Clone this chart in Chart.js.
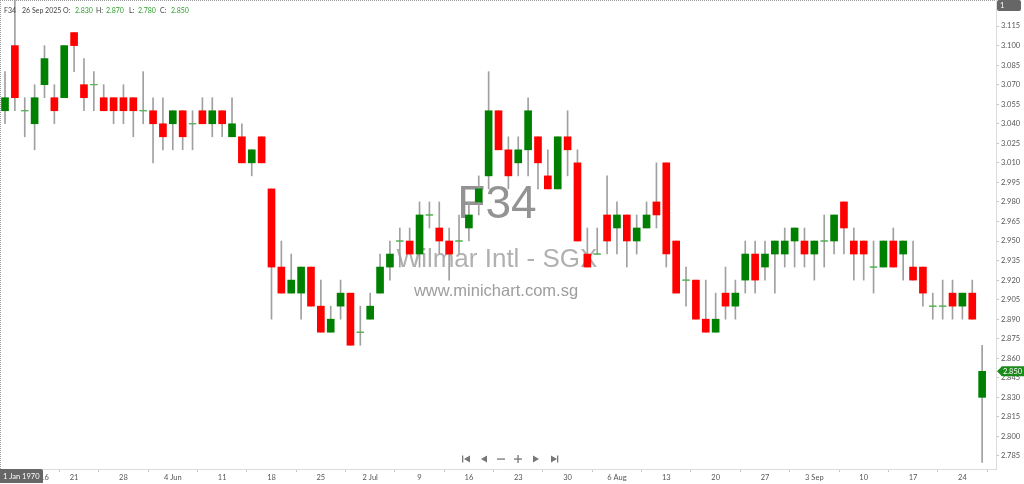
<!DOCTYPE html>
<html>
<head>
<meta charset="utf-8">
<script src="https://cdn.jsdelivr.net/npm/chart.js@4.4.1/dist/chart.umd.min.js"></script>
<style>
  html, body { margin: 0; padding: 0; background: #fff; }
  #wrap { width: 1024px; height: 484px; position: relative; }
</style>
</head>
<body>
<div id="wrap"><canvas id="chart"></canvas></div>
<script>
// F34 daily candles, 12 May - 26 Sep 2025
const opens = [
  3.05,3.10,3.05,3.04,3.07,3.06,3.06,3.11,3.07,3.07,
  3.06,3.06,3.06,3.06,3.05,3.05,3.04,3.04,3.05,3.04,
  3.05,3.04,3.05,3.03,3.03,3.01,3.03,2.99,2.93,2.91,
  2.91,2.93,2.90,2.88,2.90,2.91,2.88,2.89,2.91,2.93,
  2.95,2.95,2.94,2.97,2.96,2.95,2.95,2.96,2.98,3.00,
  3.05,3.02,3.01,3.02,3.03,3.00,2.99,3.03,3.01,2.94,
  2.94,2.97,2.96,2.97,2.95,2.96,2.98,3.01,2.95,2.92,
  2.92,2.89,2.88,2.91,2.90,2.92,2.94,2.93,2.94,2.94,
  2.95,2.95,2.94,2.95,2.95,2.98,2.95,2.95,2.93,2.93,
  2.95,2.94,2.93,2.93,2.90,2.90,2.91,2.90,2.91,2.83
];
const highs = [
  3.08,3.14,3.06,3.07,3.10,3.07,3.10,3.11,3.09,3.08,
  3.07,3.06,3.07,3.06,3.08,3.06,3.06,3.05,3.05,3.05,
  3.06,3.06,3.05,3.06,3.04,3.02,3.03,2.99,2.95,2.94,
  2.93,2.93,2.92,2.90,2.92,2.91,2.90,2.91,2.94,2.95,
  2.96,2.96,2.98,2.98,2.98,2.96,2.97,2.98,3.00,3.08,
  3.05,3.03,3.03,3.06,3.03,3.02,3.03,3.05,3.02,2.96,
  2.96,3.00,2.98,2.97,2.97,2.98,3.01,3.01,2.95,2.93,
  2.92,2.92,2.91,2.93,2.92,2.95,2.95,2.95,2.95,2.96,
  2.96,2.96,2.95,2.97,2.97,2.98,2.96,2.95,2.95,2.95,
  2.96,2.95,2.95,2.93,2.91,2.92,2.92,2.91,2.92,2.87
];
const lows = [
  3.04,3.05,3.03,3.02,3.06,3.04,3.06,3.08,3.05,3.05,
  3.05,3.04,3.04,3.03,3.04,3.01,3.02,3.02,3.02,3.02,
  3.04,3.03,3.03,3.03,3.01,3.00,3.01,2.89,2.91,2.91,
  2.89,2.90,2.88,2.88,2.89,2.87,2.87,2.89,2.91,2.92,
  2.93,2.94,2.93,2.96,2.94,2.92,2.94,2.95,2.97,2.99,
  3.02,2.99,3.00,3.00,2.99,2.99,2.99,3.00,2.95,2.93,
  2.94,2.94,2.94,2.93,2.94,2.96,2.96,2.93,2.91,2.90,
  2.89,2.88,2.88,2.89,2.89,2.91,2.91,2.92,2.91,2.93,
  2.93,2.93,2.92,2.93,2.94,2.94,2.92,2.92,2.91,2.93,
  2.93,2.92,2.92,2.90,2.89,2.89,2.89,2.89,2.89,2.78
];
const closes = [
  3.06,3.06,3.05,3.06,3.09,3.05,3.10,3.10,3.06,3.07,
  3.05,3.05,3.05,3.05,3.05,3.04,3.03,3.05,3.03,3.04,
  3.04,3.05,3.04,3.04,3.01,3.02,3.01,2.93,2.91,2.92,
  2.93,2.90,2.88,2.89,2.91,2.87,2.88,2.90,2.93,2.94,
  2.95,2.94,2.97,2.97,2.95,2.94,2.95,2.97,2.99,3.05,
  3.02,3.00,3.02,3.05,3.01,2.99,3.03,3.02,2.95,2.93,
  2.94,2.95,2.97,2.95,2.96,2.97,2.97,2.94,2.91,2.92,
  2.89,2.88,2.89,2.90,2.91,2.94,2.92,2.94,2.95,2.95,
  2.96,2.94,2.95,2.95,2.97,2.96,2.94,2.94,2.93,2.95,
  2.93,2.95,2.92,2.91,2.90,2.90,2.90,2.91,2.89,2.85
];

// date ticks on the bottom axis (candle index -> text)
const xTickIndex = [4,7,12,17,22,27,32,37,42,47,52,57,62,67,72,77,82,87,92,97];
const xTickText = ['16','21','28','4 Jun','11','18','25','2 Jul','9','16','23','30','6 Aug','13','20','27','3 Sep','10','17','24'];

// price ticks on the right axis
const yTickValues = [2.785,2.800,2.815,2.830,2.845,2.860,2.875,2.890,2.905,2.920,2.935,2.950,
  2.965,2.980,2.995,3.010,3.025,3.040,3.055,3.070,3.085,3.100,3.115];

const UP = '#008000', DOWN = '#ff0000', DOJI = '#5cb85c';
const FONT = 'Lato, "Open Sans", sans-serif';

const wickData = highs.map((h, i) => ({ x: i, y: [lows[i], h] }));
const bodyData = opens.map((o, i) => ({ x: i, y: [o, closes[i]] }));
const bodyColors = opens.map((o, i) => closes[i] >= o ? UP : DOWN);
const dojiData = opens.map((o, i) => ({ x: i, y: o === closes[i] ? o : null }));

const last = opens.length - 1;

const overlay = {
  id: 'overlay',
  beforeDatasetsDraw(chart) {
    const ctx = chart.ctx;
    ctx.save();
    ctx.textAlign = 'center';
    ctx.textBaseline = 'alphabetic';
    ctx.fillStyle = 'rgba(120,120,120,0.8)';
    ctx.font = '46px "Liberation Sans", Arial, sans-serif';
    ctx.fillText('F34', 497, 218);
    ctx.fillStyle = 'rgba(150,150,150,0.75)';
    ctx.font = '26px "Liberation Sans", Arial, sans-serif';
    ctx.fillText('Wilmar Intl - SGX', 497, 267);
    ctx.fillStyle = 'rgba(140,140,140,0.85)';
    ctx.font = '16.5px "Liberation Sans", Arial, sans-serif';
    ctx.fillText('www.minichart.com.sg', 496, 296);
    ctx.restore();
  },
  afterDraw(chart) {
    const ctx = chart.ctx;
    const area = chart.chartArea;
    const y = chart.scales.y;
    ctx.save();

    // dotted frame
    ctx.strokeStyle = '#9a9a9a';
    ctx.lineWidth = 1;
    ctx.setLineDash([1, 1]);
    ctx.beginPath();
    ctx.moveTo(0.5, 0); ctx.lineTo(0.5, 484);
    ctx.moveTo(0, 0.5); ctx.lineTo(area.right, 0.5);
    ctx.stroke();
    ctx.setLineDash([]);

    // header line
    ctx.font = '7px ' + FONT;
    ctx.textBaseline = 'middle';
    ctx.textAlign = 'left';
    const fmt = v => v.toFixed(3);
    const parts = [
      ['F34', 4, '#444'], ['26 Sep 2025', 22, '#444'],
      ['O:', 63, '#444'], [fmt(opens[last]), 75, '#2e9e2e'],
      ['H:', 96, '#444'], [fmt(highs[last]), 106, '#2e9e2e'],
      ['L:', 129, '#444'], [fmt(lows[last]), 138, '#2e9e2e'],
      ['C:', 160, '#444'], [fmt(closes[last]), 171, '#2e9e2e']
    ];
    parts.forEach(([t, x, c]) => { ctx.fillStyle = c; ctx.fillText(t, x, 11); });

    // top-right box
    ctx.font = '7.5px ' + FONT;
    ctx.fillStyle = '#666';
    ctx.beginPath();
    ctx.roundRect(997, 0, 24, 11, 2);
    ctx.fill();
    ctx.fillStyle = '#fff';
    ctx.fillText('1', 1000, 5.5);

    // last price tag
    const py = y.getPixelForValue(closes[last]);
    ctx.fillStyle = '#1a8a1a';
    ctx.beginPath();
    ctx.moveTo(997, py);
    ctx.lineTo(1002, py - 5);
    ctx.lineTo(1024, py - 5);
    ctx.lineTo(1024, py + 5);
    ctx.lineTo(1002, py + 5);
    ctx.closePath();
    ctx.fill();
    ctx.fillStyle = '#fff';
    ctx.fillText(fmt(closes[last]), 1003, py + 0.5);

    // bottom-left date box
    ctx.fillStyle = '#666';
    ctx.beginPath();
    ctx.roundRect(0, 469, 43, 14, [0, 2, 0, 0]);
    ctx.fill();
    ctx.fillStyle = '#fff';
    ctx.fillText('1 Jan 1970', 3, 476.5);

    // navigation buttons
    ctx.fillStyle = '#777';
    const ny = 459;
    // |<
    ctx.fillRect(462, ny - 3.5, 1.3, 7);
    ctx.beginPath(); ctx.moveTo(464, ny); ctx.lineTo(470, ny - 3.5); ctx.lineTo(470, ny + 3.5); ctx.fill();
    // <
    ctx.beginPath(); ctx.moveTo(481, ny); ctx.lineTo(487, ny - 3.5); ctx.lineTo(487, ny + 3.5); ctx.fill();
    // -
    ctx.fillRect(497, ny - 0.6, 8, 1.3);
    // +
    ctx.fillRect(514, ny - 0.6, 8, 1.3);
    ctx.fillRect(517.4, ny - 4, 1.3, 8);
    // >
    ctx.beginPath(); ctx.moveTo(539, ny); ctx.lineTo(533, ny - 3.5); ctx.lineTo(533, ny + 3.5); ctx.fill();
    // >|
    ctx.beginPath(); ctx.moveTo(557, ny); ctx.lineTo(551, ny - 3.5); ctx.lineTo(551, ny + 3.5); ctx.fill();
    ctx.fillRect(557, ny - 3.5, 1.3, 7);

    ctx.restore();
  }
};

new Chart(document.getElementById('chart'), {
  type: 'bar',
  data: {
    datasets: [
      {
        type: 'scatter',
        data: dojiData,
        pointStyle: 'line',
        pointRadius: 3.5,
        borderColor: DOJI,
        borderWidth: 1.2,
        order: 0
      },
      {
        data: bodyData,
        backgroundColor: bodyColors,
        borderWidth: 0,
        barThickness: 7,
        grouped: false,
        order: 1
      },
      {
        data: wickData,
        backgroundColor: '#a0a0a0',
        borderWidth: 0,
        barThickness: 1,
        grouped: false,
        order: 2
      }
    ]
  },
  options: {
    responsive: true,
    maintainAspectRatio: false,
    animation: false,
    layout: { padding: 0, autoPadding: false },
    plugins: { legend: { display: false }, tooltip: { enabled: false } },
    scales: {
      x: {
        type: 'linear',
        min: -0.507,
        max: 100.405,
        offset: false,
        afterBuildTicks: s => { s.ticks = xTickIndex.map(v => ({ value: v })); },
        afterFit: s => { s.height = 15; s.paddingLeft = 0; s.paddingRight = 0; },
        ticks: {
          autoSkip: false,
          maxRotation: 0,
          padding: 1,
          color: '#555',
          font: { size: 7.5, family: FONT },
          callback: v => xTickText[xTickIndex.indexOf(v)] ?? ''
        },
        grid: { drawOnChartArea: false, drawTicks: true, tickLength: 3, color: '#c8c8c8' },
        border: { display: true, color: '#dcdcdc' }
      },
      y: {
        position: 'right',
        min: 2.775,
        max: 3.135,
        afterBuildTicks: s => { s.ticks = yTickValues.map(v => ({ value: v })); },
        afterFit: s => { s.width = 28; s.paddingTop = 0; s.paddingBottom = 0; },
        ticks: {
          padding: 2,
          color: '#555',
          font: { size: 7.5, family: FONT },
          callback: v => Number(v).toFixed(3)
        },
        grid: { drawOnChartArea: false, drawTicks: true, tickLength: 3, color: '#c8c8c8' },
        border: { display: true, color: '#dcdcdc' }
      }
    }
  },
  plugins: [overlay]
});
</script>
</body>
</html>
